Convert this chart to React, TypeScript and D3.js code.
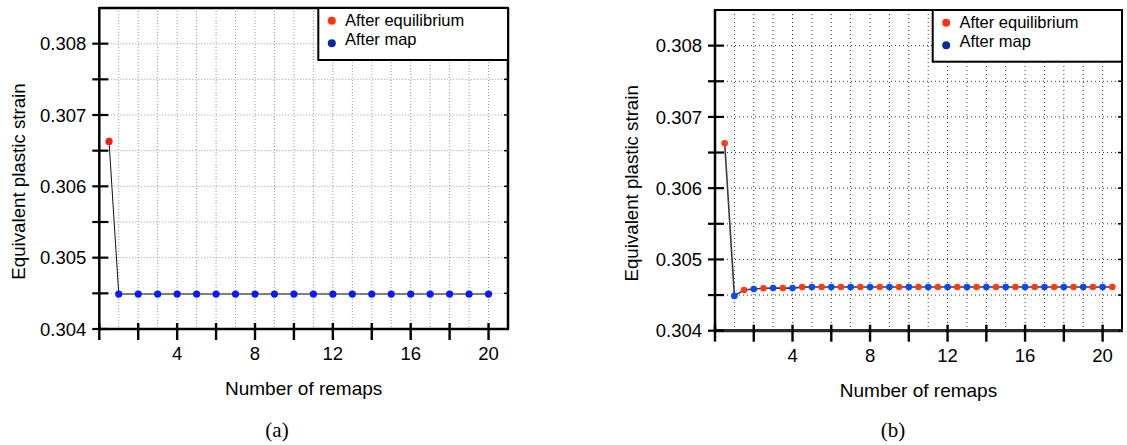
import React from "react";
import * as d3 from "d3";

// ---------- data ----------
const xTickLabels = [4, 8, 12, 16, 20];
const xMajorTicks = [0, 2, 4, 6, 8, 10, 12, 14, 16, 18, 20];
const xGrid = [1, 2, 3, 4, 5, 6, 7, 8, 9, 10, 11, 12, 13, 14, 15, 16, 17, 18, 19, 20];
const yTicks = [0.304, 0.3045, 0.305, 0.3055, 0.306, 0.3065, 0.307, 0.3075, 0.308];
const yTickLabels = ["0.304", "0.305", "0.306", "0.307", "0.308"];
const yLabelValues = [0.304, 0.305, 0.306, 0.307, 0.308];
const yGrid = [0.3045, 0.305, 0.3055, 0.306, 0.3065, 0.307, 0.3075, 0.308];

const legendLabels = ["After equilibrium", "After map"];

// panel (a)
const aEquilX = [0.5];
const aEquilY = [0.30663];
const aMapX = [1, 2, 3, 4, 5, 6, 7, 8, 9, 10, 11, 12, 13, 14, 15, 16, 17, 18, 19, 20];
const aMapY = [
  0.30449, 0.30449, 0.30449, 0.30449, 0.30449, 0.30449, 0.30449, 0.30449, 0.30449, 0.30449,
  0.30449, 0.30449, 0.30449, 0.30449, 0.30449, 0.30449, 0.30449, 0.30449, 0.30449, 0.30449,
];

// panel (b)
const bEquilX = [0.5, 1.5, 2.5, 3.5, 4.5, 5.5, 6.5, 7.5, 8.5, 9.5, 10.5, 11.5, 12.5, 13.5, 14.5, 15.5, 16.5, 17.5, 18.5, 19.5, 20.5];
const bEquilY = [
  0.30663, 0.304572, 0.304596, 0.304598, 0.304612, 0.304613, 0.304613, 0.304613, 0.304613, 0.304613,
  0.304613, 0.304613, 0.304613, 0.304613, 0.304613, 0.304613, 0.304613, 0.304613, 0.304613, 0.304613,
  0.304613,
];
const bMapX = [1, 2, 3, 4, 5, 6, 7, 8, 9, 10, 11, 12, 13, 14, 15, 16, 17, 18, 19, 20];
const bMapY = [
  0.304488, 0.304586, 0.3046, 0.304598, 0.304613, 0.304613, 0.304613, 0.304613, 0.304613, 0.304613,
  0.304613, 0.304613, 0.304613, 0.304613, 0.304613, 0.304613, 0.304613, 0.304613, 0.304613, 0.304613,
];

const FONT = "'Liberation Sans', Arial, Helvetica, sans-serif";

type PanelProps = {
  left: number; right: number; top: number; bottom: number;
  equilX: number[]; equilY: number[]; mapX: number[]; mapY: number[];
  variant: "a" | "b";
  caption: string; captionX: number;
  yLabelX: number;
  legendLeft: number; legendBottom: number;
};

function Panel(p: PanelProps) {
  const x = d3.scaleLinear().domain([0, 21]).range([p.left, p.right]);
  const y = d3.scaleLinear().domain([0.304, 0.3085]).range([p.bottom, p.top]);

  const pts: [number, number][] = [];
  p.equilX.forEach((v, i) => pts.push([v, p.equilY[i]]));
  p.mapX.forEach((v, i) => pts.push([v, p.mapY[i]]));
  pts.sort((a, b) => a[0] - b[0]);
  const line = d3.line<[number, number]>().x((d) => x(d[0])).y((d) => y(d[1]));

  const isA = p.variant === "a";
  const gridColor = isA ? "#9a9a9a" : "#333";
  const gridDash = isA ? "1 2" : "1 3";
  const redPt = isA ? "#ff1a10" : "#ff3a14";
  const bluePt = isA ? "#0a1aff" : "#0a48ff";
  const r = isA ? 3.6 : 3.3;

  const midY = (p.top + p.bottom) / 2;

  return (
    <g>
      {/* grid */}
      {xGrid.map((g) => (
        <line key={"gx" + g} x1={x(g)} x2={x(g)} y1={p.top} y2={p.bottom}
          stroke={gridColor} strokeWidth={1} strokeDasharray={gridDash} />
      ))}
      {yGrid.map((g) => (
        <line key={"gy" + g} x1={p.left} x2={p.right} y1={y(g)} y2={y(g)}
          stroke={gridColor} strokeWidth={1} strokeDasharray={gridDash} />
      ))}

      {/* connecting line */}
      <path d={line(pts) || ""} fill="none" stroke={isA ? "#111" : "#3a3a3a"} strokeWidth={isA ? 1 : 1.6} />

      {/* points */}
      {p.equilX.map((v, i) => (
        <circle key={"e" + i} cx={x(v)} cy={y(p.equilY[i])} r={r} fill={redPt} />
      ))}
      {p.mapX.map((v, i) => (
        <circle key={"m" + i} cx={x(v)} cy={y(p.mapY[i])} r={r} fill={bluePt} />
      ))}

      {/* frame */}
      <line x1={p.left} x2={p.right} y1={p.top} y2={p.top} stroke="#000" strokeWidth={isA ? 2.5 : 1.8} />
      <line x1={p.right} x2={p.right} y1={p.top} y2={p.bottom} stroke="#000" strokeWidth={isA ? 2.5 : 2} />
      <line x1={p.left} x2={p.right + 1} y1={p.bottom} y2={p.bottom} stroke={isA ? "#000" : "#2a2a2a"} strokeWidth={isA ? 2.5 : 3.2} />
      <line x1={p.left} x2={p.left} y1={p.top - 1} y2={p.bottom + 1} stroke="#000" strokeWidth={2.5} />

      {/* y ticks */}
      {yTicks.map((t) => (
        <g key={"yt" + t}>
          <line x1={p.left - 7} x2={p.left + 9} y1={y(t)} y2={y(t)} stroke="#000" strokeWidth={2.2} />
          <line x1={p.right - 4} x2={p.right} y1={y(t)} y2={y(t)} stroke="#000" strokeWidth={1.5} />
        </g>
      ))}
      {yLabelValues.map((t, i) => (
        <text key={"yl" + t} x={p.left - 13} y={y(t)} dy="0.36em" textAnchor="end"
          fontFamily={FONT} fontSize={18.5} fill="#000">{yTickLabels[i]}</text>
      ))}

      {/* x ticks */}
      {xMajorTicks.map((t) => (
        <line key={"xt" + t} x1={x(t)} x2={x(t)} y1={p.bottom - 6} y2={p.bottom + 11} stroke="#000" strokeWidth={2.4} />
      ))}
      {xTickLabels.map((t) => (
        <text key={"xl" + t} x={x(t)} y={p.bottom + 31} textAnchor="middle"
          fontFamily={FONT} fontSize={18.5} fill="#000">{t}</text>
      ))}

      {/* axis titles */}
      <text x={(p.left + p.right) / 2} y={p.bottom + 66} textAnchor="middle"
        fontFamily={FONT} fontSize={19} fill="#000">Number of remaps</text>
      <text transform={`translate(${p.yLabelX},${midY + 13}) rotate(-90)`} textAnchor="middle"
        fontFamily={FONT} fontSize={18.7} fill="#000">Equivalent plastic strain</text>

      {/* legend */}
      <rect x={p.legendLeft} y={p.top} width={p.right - p.legendLeft} height={p.legendBottom - p.top}
        fill="#fff" stroke="#000" strokeWidth={2} />
      <circle cx={p.legendLeft + 13.5} cy={p.top + 12.7} r={4} fill="#ff3210" />
      <circle cx={p.legendLeft + 13.5} cy={p.top + 35.3} r={4} fill="#0a2aa0" />
      <text x={p.legendLeft + 26.7} y={p.top + 18} fontFamily={FONT} fontSize={16.5} fill="#000">{legendLabels[0]}</text>
      <text x={p.legendLeft + 26.7} y={p.top + 37} fontFamily={FONT} fontSize={16.5} fill="#000">{legendLabels[1]}</text>

      {/* caption */}
      <text x={p.captionX} y={437} textAnchor="middle" fontFamily="'Liberation Serif', 'DejaVu Serif', serif"
        fontSize={21} fill="#000">{p.caption}</text>
    </g>
  );
}

export default function App() {
  return (
    <svg width={1127} height={445} style={{ position: "absolute", left: 0, top: 0, background: "#fff" }}>
      <rect x={0} y={0} width={1127} height={445} fill="#fff" />
      <Panel left={99.3} right={508} top={8} bottom={329}
        equilX={aEquilX} equilY={aEquilY} mapX={aMapX} mapY={aMapY}
        variant="a" caption="(a)" captionX={277} yLabelX={24.5}
        legendLeft={318.3} legendBottom={60} />
      <Panel left={715} right={1122} top={10} bottom={330.7}
        equilX={bEquilX} equilY={bEquilY} mapX={bMapX} mapY={bMapY}
        variant="b" caption="(b)" captionX={893} yLabelX={637.5}
        legendLeft={932.7} legendBottom={61.7} />
    </svg>
  );
}
